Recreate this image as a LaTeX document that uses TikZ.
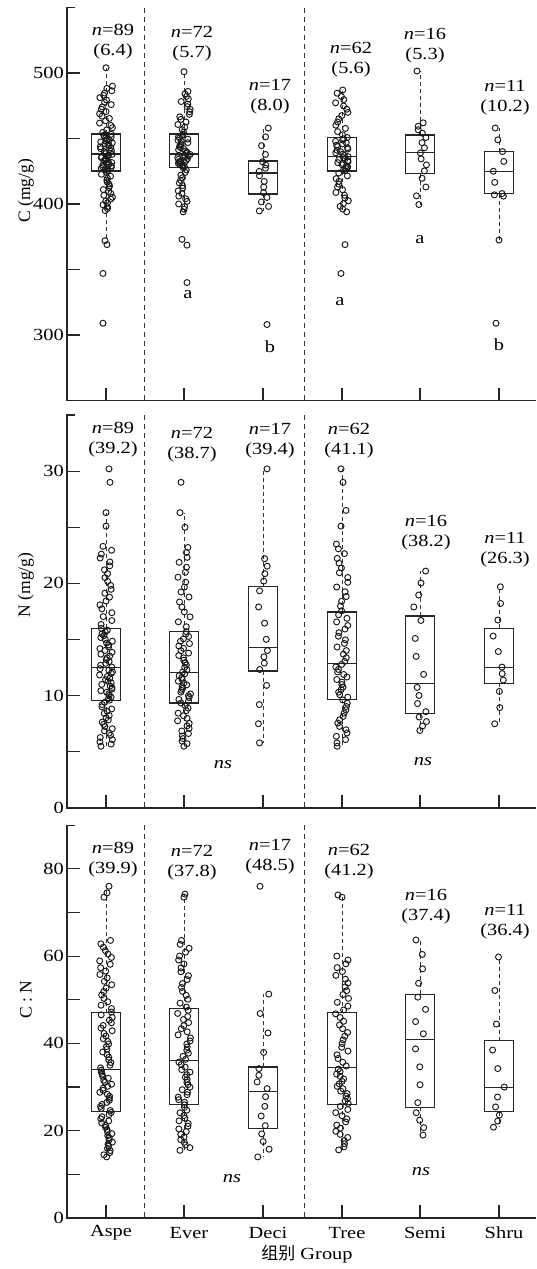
\documentclass[tikz,border=0pt]{standalone}
\usepackage{fontspec}
\setmainfont{Liberation Serif}[FakeStretch=1.2]
\newfontfamily\plainserif{Liberation Serif}
\newfontfamily\cjk{Noto Sans CJK SC}

\tikzset{
  axisline/.style={line width=1.2pt, draw=black!85},
  boxline/.style={line width=1.1pt, draw=black!85},
  whisk/.style={line width=1pt, draw=black!80, dash pattern=on 4pt off 3pt},
  sepline/.style={line width=1pt, draw=black!80, dash pattern=on 5pt off 4pt},
  datapt/.style={circle, draw=black!90, line width=0.95pt, inner sep=0pt, minimum size=6pt},
  ticklab/.style={anchor=east, inner sep=0pt, font=\fontsize{17}{20}\selectfont},
  cntlab/.style={align=center, inner sep=0pt, font=\fontsize{17}{20}\selectfont},
  sigtext/.style={inner sep=0pt, font=\fontsize{17}{20}\selectfont},
  axtitle/.style={rotate=90, inner sep=0pt, font=\plainserif\fontsize{17.5}{20}\selectfont}
}

% one group: x, n, whisker low, lo, q1, median, q3, hi, whisker high
\newcommand{\grp}[9]{%
  \draw[whisk] (#1,#5) -- (#1,#3);
  \draw[whisk] (#1,#7) -- (#1,#9);
  \draw[boxline] ({#1-14.5},#5) rectangle ({#1+14.5},#7);
  \draw[boxline] ({#1-14.5},#6) -- ({#1+14.5},#6);
  \foreach \i in {1,...,#2} {
    \pgfmathsetmacro{\p}{(\i-1)/(#2-1)}
    \pgfmathsetmacro{\v}{\p<0.25 ? #4+(#5-#4)*\p*4 : (\p<0.5 ? #5+(#6-#5)*(\p-0.25)*4 : (\p<0.75 ? #6+(#7-#6)*(\p-0.5)*4 : #7+(#8-#7)*(\p-0.75)*4))}
    \pgfmathsetmacro{\dx}{6.5*rand}
    \node[datapt] at ({#1+\dx},\v) {};
  }
}
% single points: x, list of dx/value
\newcommand{\extrapts}[2]{%
  \foreach \dx/\v in {#2} \node[datapt] at ({#1+\dx},\v) {};
}

\begin{document}
\begin{tikzpicture}[x=1pt, y=-1pt]
  \useasboundingbox (0,0) rectangle (536,1269);
  \pgfmathsetseed{7}

  % Panel C
  \begin{scope}[shift={(0,728)}, y={(0pt,1.31pt)}]
    \draw[axisline] (75,550) -- (67,550) -- (67,250) -- (536,250);
    \foreach \v in {300,350,...,500} \draw[axisline] (67,\v) -- (80,\v);
    \foreach \v in {300,400,500} \node[ticklab] at (64,\v) {\v};
    \foreach \x in {106,184,263,342,420,499} \draw[axisline] (\x,250) -- (\x,{250+13/1.31});
    \foreach \x in {144,304} \draw[sepline] (\x,550) -- (\x,250);

    \grp{106}{84}{372}{395}{425.2}{438.2}{453.4}{490}{504}
    \extrapts{106}{0/504, -1/372, 1/369, -3/347, -3/309}
    \grp{184}{68}{394}{394}{427.6}{438.2}{453.4}{486}{501}
    \extrapts{184}{0/501, -2/373, 3/368.6, 3/340}
    \grp{263}{16}{394.7}{394.7}{407.6}{423.7}{432.8}{458}{458}
    \extrapts{263}{4/308}
    \grp{342}{60}{394}{394}{425.2}{436.6}{451}{487}{487}
    \extrapts{342}{3/369, -1/347}
    \grp{420}{15}{399.6}{399.6}{423}{439}{452.7}{462}{501.5}
    \extrapts{420}{-3/501.5}
    \grp{499}{9}{372.5}{406}{408}{425}{440}{458}{458}
    \extrapts{499}{0/372.5, -3/309}
  \end{scope}

  % Panel N
  \begin{scope}[shift={(0,808)}, y={(0pt,11.23pt)}]
    \draw[axisline] (75,35) -- (67,35) -- (67,0) -- (536,0);
    \foreach \v in {5,10,...,30} \draw[axisline] (67,\v) -- (80,\v);
    \foreach \v in {0,10,20,30} \node[ticklab] at (64,\v) {\v};
    \foreach \x in {106,184,263,342,420,499} \draw[axisline] (\x,0) -- (\x,{13/11.23});
    \foreach \x in {144,304} \draw[sepline] (\x,35) -- (\x,0);

    \grp{106}{85}{5.5}{5.5}{9.6}{12.55}{16}{23.3}{26.3}
    \extrapts{106}{3/30.2, 4/29, 0/26.3, 0/25.1}
    \grp{184}{69}{5.5}{5.5}{9.35}{12.1}{15.7}{23.2}{26.3}
    \extrapts{184}{-3/29, -4/26.3, 1/25}
    \grp{263}{16}{5.8}{5.8}{12.2}{14.3}{19.7}{22.2}{30.2}
    \extrapts{263}{4/30.2}
    \grp{342}{58}{5.5}{5.5}{9.7}{12.9}{17.45}{23.5}{30.2}
    \extrapts{342}{-1/30.2, 1/29, 4/26.5, -1/25.1}
    \grp{420}{16}{6.9}{6.9}{8.4}{11.1}{17.1}{21.1}{21.1}
    \grp{499}{11}{7.5}{7.5}{11.1}{12.55}{16}{19.7}{19.7}
  \end{scope}

  % Panel C:N
  \begin{scope}[shift={(0,1218)}, y={(0pt,4.365pt)}]
    \draw[axisline] (75,90) -- (67,90) -- (67,0) -- (536,0);
    \foreach \v in {10,20,...,80} \draw[axisline] (67,\v) -- (80,\v);
    \foreach \v in {0,20,40,60,80} \node[ticklab] at (64,\v) {\v};
    \foreach \x in {106,184,263,342,420,499} \draw[axisline] (\x,0) -- (\x,{13/4.365});
    \foreach \x in {144,304} \draw[sepline] (\x,90) -- (\x,0);

    \grp{106}{86}{14}{14}{24.3}{34.1}{47}{63.6}{76}
    \extrapts{106}{3/76, 1/74.5, -2/73.5}
    \grp{184}{70}{15.5}{15.5}{26.1}{36}{48.1}{63.6}{74.2}
    \extrapts{184}{1/74.2, 0/73.5}
    \grp{263}{16}{14}{14}{20.6}{28.9}{34.6}{51.3}{51.3}
    \extrapts{263}{-3/76}
    \grp{342}{60}{15.6}{15.6}{26.1}{34.4}{47}{60}{74}
    \extrapts{342}{-4/74, 0/73.5}
    \grp{420}{16}{19}{19}{25.4}{40.8}{51.3}{63.7}{63.7}
    \grp{499}{11}{20.8}{20.8}{24.3}{30}{40.6}{59.8}{59.8}
  \end{scope}

  % Counts and means
  \node[cntlab] (cA) at (113,42) {\textit{n}=89\\(6.4)};
  \node[cntlab] (cE) at (192,44) {\textit{n}=72\\(5.7)};
  \node[cntlab] (cD) at (270,97) {\textit{n}=17\\(8.0)};
  \node[cntlab] (cT) at (351,60) {\textit{n}=62\\(5.6)};
  \node[cntlab] (cS) at (425,46) {\textit{n}=16\\(5.3)};
  \node[cntlab] (cH) at (505,98) {\textit{n}=11\\(10.2)};

  \node[cntlab] (nA) at (113,440) {\textit{n}=89\\(39.2)};
  \node[cntlab] (nE) at (192,445) {\textit{n}=72\\(38.7)};
  \node[cntlab] (nD) at (270,441) {\textit{n}=17\\(39.4)};
  \node[cntlab] (nT) at (349,441) {\textit{n}=62\\(41.1)};
  \node[cntlab] (nS) at (426,533) {\textit{n}=16\\(38.2)};
  \node[cntlab] (nH) at (505,550) {\textit{n}=11\\(26.3)};

  \node[cntlab] (rA) at (113,860) {\textit{n}=89\\(39.9)};
  \node[cntlab] (rE) at (192,863) {\textit{n}=72\\(37.8)};
  \node[cntlab] (rD) at (270,857) {\textit{n}=17\\(48.5)};
  \node[cntlab] (rT) at (349,862) {\textit{n}=62\\(41.2)};
  \node[cntlab] (rS) at (426,907) {\textit{n}=16\\(37.4)};
  \node[cntlab] (rH) at (505,922) {\textit{n}=11\\(36.4)};

  % Letters
  \node[sigtext] (sE) at (188,295) {a};
  \node[sigtext] (sD) at (270,347) {b};
  \node[sigtext] (sT) at (340,302) {a};
  \node[sigtext] (sS) at (420,240) {a};
  \node[sigtext] (sH) at (499,345) {b};
  \node[sigtext] (nsN1) at (223,765) {\textit{ns}};
  \node[sigtext] (nsN2) at (423,762) {\textit{ns}};
  \node[sigtext] (nsR1) at (232,1179) {\textit{ns}};
  \node[sigtext] (nsR2) at (421,1172) {\textit{ns}};

  % Axis titles
  \node[axtitle] (tC) at (26,191) {C (mg/g)};
  \node[axtitle] (tN) at (26,585) {N (mg/g)};
  \node[axtitle] (tR) at (26,1000) {C : N};
  \foreach \x/\g in {106/Aspe,184/Ever,263/Deci,342/Tree,420/Semi,499/Shru}
    \node[sigtext] (x\g) at (\x+5,1233) {\g};
  \node[sigtext] (tG) at (307,1254) {{\cjk 组别} Group};
\end{tikzpicture}
\end{document}
